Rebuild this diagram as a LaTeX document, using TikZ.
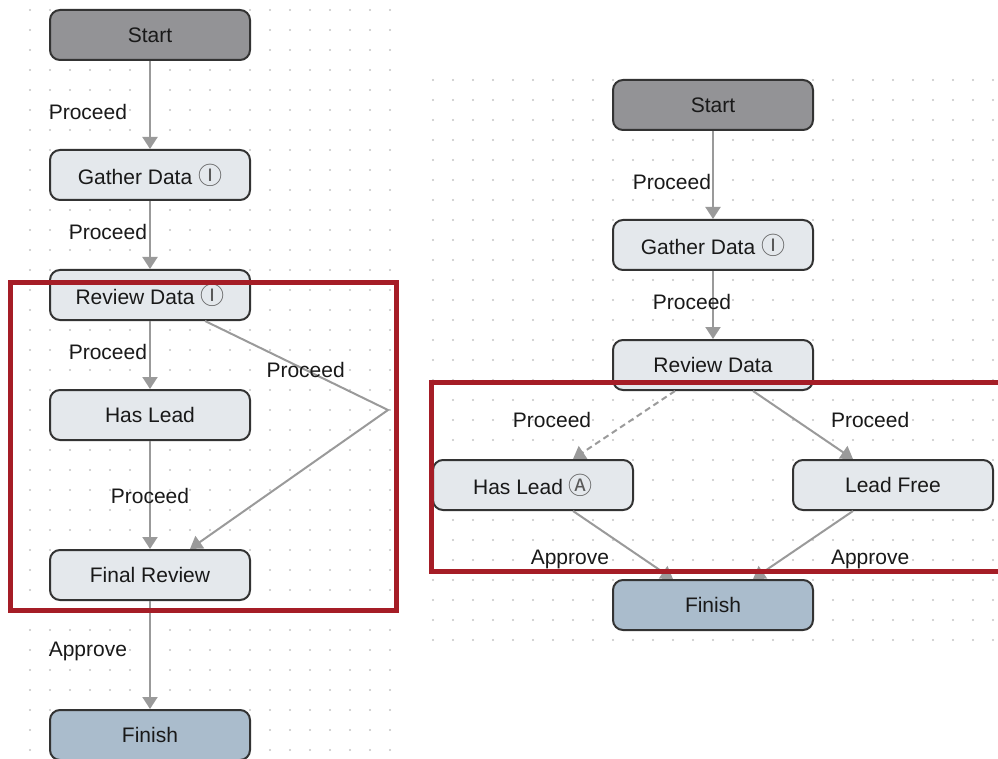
\documentclass[tikz,border=0pt]{standalone}
\usepackage{fontspec}
\setmainfont{Liberation Sans}
\newfontfamily\symfont{Noto Sans CJK SC}
\usetikzlibrary{arrows.meta}

\definecolor{nodefill}{HTML}{E4E8EC}
\definecolor{startfill}{HTML}{939396}
\definecolor{finishfill}{HTML}{AABCCC}
\definecolor{nodeline}{HTML}{333333}
\definecolor{flowgray}{HTML}{9A9A9A}
\definecolor{dotgray}{HTML}{C4C4C4}
\definecolor{markred}{HTML}{A51D26}

\newcommand{\circI}{{\symfont\fontsize{24}{25}\selectfont\color{black!65}Ⓘ}}
\newcommand{\circA}{{\symfont\fontsize{24}{25}\selectfont\color{black!65}Ⓐ}}

\tikzset{
  state/.style={draw=nodeline, line width=2pt, rounded corners=10pt,
    fill=nodefill, minimum width=200pt, minimum height=50pt, text=black!90},
  flow/.style={draw=flowgray, line width=2pt, -{Triangle[width=15pt,length=12pt]}},
  lbl/.style={inner sep=0pt, text=black!90},
  frame/.style={draw=markred, line width=5pt}
}

\begin{document}
\begin{tikzpicture}[x=1pt, y=-1pt, font=\fontsize{21}{25}\selectfont]
    \useasboundingbox (0,0) rectangle (998,759);

    % Dot grids
    \foreach \x in {30,50,...,390}
        \foreach \y in {10,30,...,750}
            \fill[dotgray] (\x,\y) circle (1.2pt);
    \foreach \x in {433,453,...,993}
        \foreach \y in {80,100,...,640}
            \fill[dotgray] (\x,\y) circle (1.2pt);

    % Left flow
    \node[state, fill=startfill] (startL) at (150,35) {Start};
    \node[state] (gatherL) at (150,175) {Gather Data \circI};
    \node[state] (reviewL) at (150,295) {Review Data \circI};
    \node[state] (leadL) at (150,415) {Has Lead};
    \node[state] (finalL) at (150,575) {Final Review};
    \node[state, fill=finishfill] (finishL) at (150,735) {Finish};
    \coordinate (turnL) at (388,410);

    \draw[flow] (startL) -- node[lbl, pos=0.58, left=22pt] {Proceed} (gatherL);
    \draw[flow] (gatherL) -- node[lbl, pos=0.46, left=2pt] {Proceed} (reviewL);
    \draw[flow] (reviewL) -- node[lbl, pos=0.46, left=2pt] {Proceed} (leadL);
    \draw[flow] (leadL) -- node[lbl, pos=0.51] {Proceed} (finalL);
    \draw[flow] ([xshift=55pt]reviewL.south) -- node[lbl, pos=0.55] {Proceed} (turnL)
        -- ([xshift=40pt]finalL.north);
    \draw[flow] (finalL) -- node[lbl, pos=0.47, left=22pt] {Approve} (finishL);

    % Right flow
    \node[state, fill=startfill] (startR) at (713,105) {Start};
    \node[state] (gatherR) at (713,245) {Gather Data \circI};
    \node[state] (reviewR) at (713,365) {Review Data};
    \node[state] (leadR) at (533,485) {Has Lead \circA};
    \node[state] (freeR) at (893,485) {Lead Free};
    \node[state, fill=finishfill] (finishR) at (713,605) {Finish};

    \draw[flow] (startR) -- node[lbl, pos=0.58, left=1pt] {Proceed} (gatherR);
    \draw[flow] (gatherR) -- node[lbl, pos=0.46, xshift=-21pt] {Proceed} (reviewR);
    \draw[flow, dash pattern=on 6pt off 4pt] ([xshift=-38pt]reviewR.south)
        -- node[lbl, pos=0.43, left=39pt] {Proceed} ([xshift=40pt]leadR.north);
    \draw[flow] ([xshift=40pt]reviewR.south)
        -- node[lbl, pos=0.43, right=34pt] {Proceed} ([xshift=-40pt]freeR.north);
    \draw[flow] ([xshift=40pt]leadR.south)
        -- node[lbl, pos=0.71, left=34pt] {Approve} ([xshift=-40pt]finishR.north);
    \draw[flow] ([xshift=-40pt]freeR.south)
        -- node[lbl, pos=0.71, right=48pt] {Approve} ([xshift=40pt]finishR.north);

    % Highlight frames
    \draw[frame] (10,282) rectangle (396,610);
    \draw[frame] (431,382) rectangle (1010,571);
\end{tikzpicture}
\end{document}
